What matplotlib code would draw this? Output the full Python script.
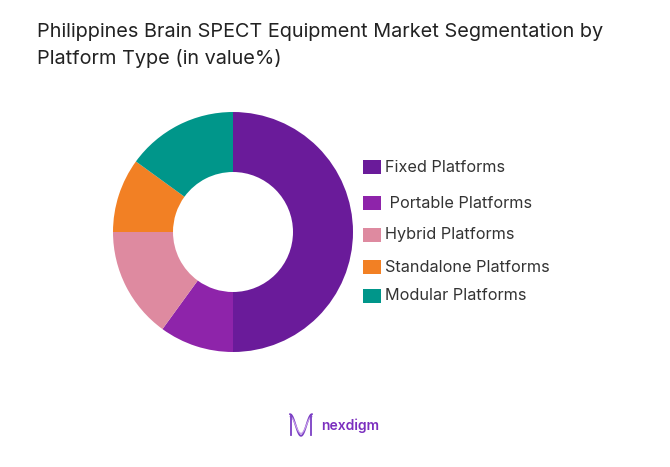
import numpy as np
import matplotlib.pyplot as plt
from matplotlib.patches import Rectangle

plt.rcParams["font.family"] = ["Inter", "DejaVu Sans"]

# Data
segments = [
    "Fixed Platforms",
    " Portable Platforms",
    "Hybrid Platforms",
    "Standalone Platforms",
    "Modular Platforms",
]
shares = [50, 10, 15, 10, 15]
colors = ["#6a1b9a", "#8e24aa", "#de8aa0", "#f28024", "#00968a"]

W, H = 670, 467
fig = plt.figure(figsize=(W / 100, H / 100), dpi=100)

# Donut: centre (233, 232), outer radius 120 px
cx, cy, r = 233, 232, 120
ax = fig.add_axes([(cx - r) / W, 1 - (cy + r) / H, 2 * r / W, 2 * r / H])
ax.pie(
    shares,
    colors=colors,
    startangle=90,
    counterclock=False,
    radius=1,
    wedgeprops=dict(width=0.5, edgecolor="none"),
)
ax.set_xlim(-1, 1)
ax.set_ylim(-1, 1)
ax.set_aspect("auto")
ax.axis("off")

fig.text(
    37 / W, 1 - 23 / H,
    "Philippines Brain SPECT Equipment Market Segmentation by\nPlatform Type (in value%)",
    fontsize=14.3, color="#222222", va="top", ha="left", linespacing=1.5,
)

# Legend drawn by hand to keep the uneven row positions
legend_y = [167, 203, 235, 267, 296]
for lab, col, y in zip(segments, colors, legend_y):
    fig.patches.append(
        Rectangle((363 / W, 1 - (y + 7) / H), 18 / W, 14 / H,
                  transform=fig.transFigure, facecolor=col, edgecolor="none")
    )
    fig.text(385 / W, 1 - y / H, lab, fontsize=11.7, color="#333333",
             va="center", ha="left")

# Logo
lax = fig.add_axes([289 / W, 1 - 437 / H, 24 / W, 24 / H])
t = np.linspace(0, 1, 100)
lax.plot(t, 0.5 + 0.45 * np.sin(np.pi * (t * 2 - 0.5)) * -1, color="#7b3fc4", lw=1.3)
lax.plot(t, 0.5 + 0.35 * np.sin(np.pi * (t * 2 - 0.5)) * -1, color="#c49be8", lw=0.9)
lax.plot([0.05, 0.05], [0.1, 0.9], color="#7b3fc4", lw=1.3)
lax.plot([0.95, 0.95], [0.1, 0.9], color="#7b3fc4", lw=1.3)
lax.set_xlim(-0.05, 1.05)
lax.set_ylim(0, 1)
lax.axis("off")
fig.text(321 / W, 1 - 426 / H, "nexdigm", fontsize=10, color="#7b2fbf",
         fontweight="semibold", va="center", ha="left")

fig.savefig("out.png", dpi=100)
